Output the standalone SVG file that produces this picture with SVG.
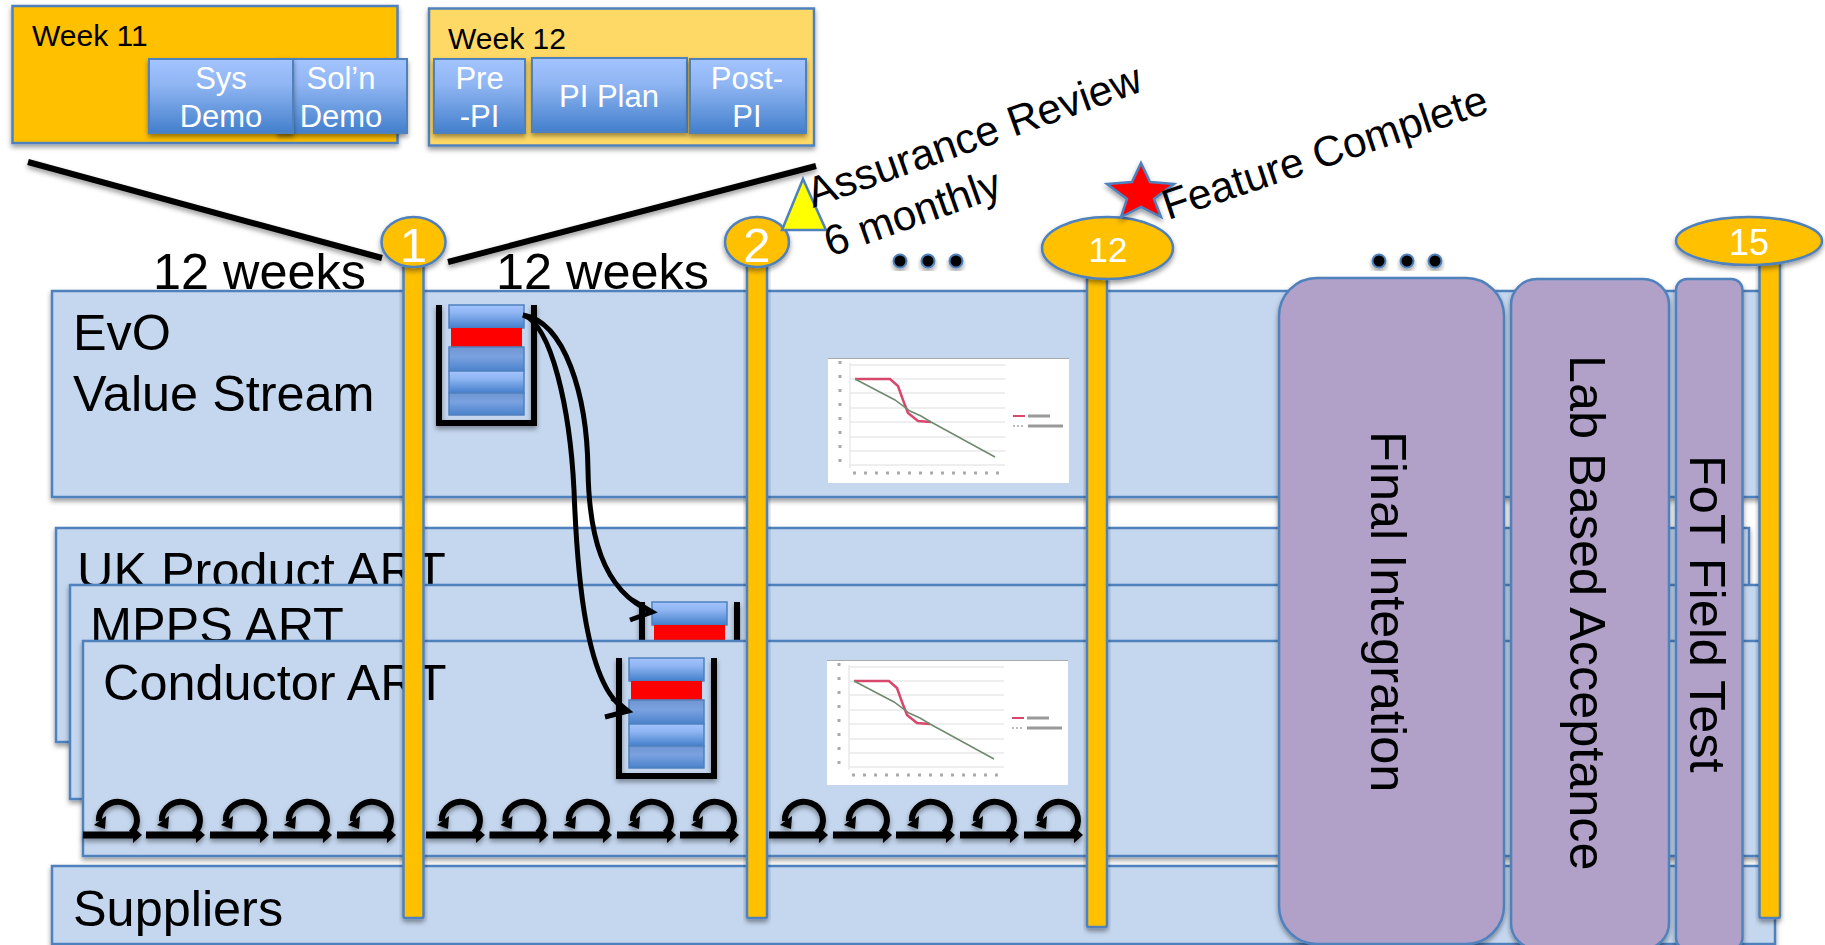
<svg xmlns="http://www.w3.org/2000/svg" xmlns:xlink="http://www.w3.org/1999/xlink" width="1825" height="945" viewBox="0 0 1825 945">
<style>
text{font-family:"Liberation Sans",Arial,sans-serif;fill:#000}
.lane{fill:#c5d7ef;stroke:#4f81bd;stroke-width:2.5;filter:url(#sh)}
.lbl{font-size:50.4px}
.wk{font-size:30px}
.btn{stroke:#4f81bd;stroke-width:2;fill:url(#blue);filter:url(#sh)}
.bt{font-size:31px;fill:#fff;text-anchor:middle}
.pole{fill:#ffc000;stroke:#4f81bd;stroke-width:2.5;filter:url(#sh)}
.num{fill:#fff;text-anchor:middle}
.purple{fill:#b1a0c7;stroke:#4f81bd;stroke-width:2.5;filter:url(#sh)}
.ang{font-size:42.5px}
.heavy{fill:none;stroke:#000;stroke-width:6}
.arrow{fill:none;stroke:#000;stroke-width:5}
.dot{fill:#000;stroke:#4f81bd;stroke-width:2;filter:url(#sh)}
.row{stroke:#4f81bd;stroke-width:1.5}
</style>
<defs>
<filter id="sh" x="-20%" y="-20%" width="140%" height="140%"><feDropShadow dx="0" dy="3" stdDeviation="2.5" flood-color="#000" flood-opacity="0.4"/></filter>
<filter id="soft" x="-5%" y="-5%" width="110%" height="110%"><feGaussianBlur stdDeviation="0.7"/></filter>
<linearGradient id="blue" x1="0" y1="0" x2="0" y2="1"><stop offset="0" stop-color="#a3c4ff"/><stop offset="0.35" stop-color="#8fb5f2"/><stop offset="1" stop-color="#437fcc"/></linearGradient>
<linearGradient id="blue2" x1="0" y1="0" x2="0" y2="1"><stop offset="0" stop-color="#6f95d2"/><stop offset="0.4" stop-color="#7ba2e0"/><stop offset="1" stop-color="#4a82cc"/></linearGradient>
<g id="stack">
<path d="M-10,0V118H85V0" class="heavy" style="filter:url(#sh)"/>
<rect x="0" y="0" width="75" height="23" class="row" fill="url(#blue)"/>
<rect x="2" y="23" width="71" height="19" fill="#ff0000"/>
<rect x="0" y="42" width="75" height="24" class="row" fill="url(#blue2)"/>
<rect x="0" y="66" width="75" height="22" class="row" fill="url(#blue)"/>
<rect x="0" y="88" width="75" height="22" class="row" fill="url(#blue2)"/>
</g>
<g id="chart">
<rect x="0" y="0" width="241" height="125" fill="#fff"/>
<path d="M0,0.5H241" stroke="#aaa" stroke-width="1"/>
<g filter="url(#soft)">
<path d="M22,7H177M22,21H177M22,35H177M22,50H177M22,64H177M22,79H177M22,93H177M22,107H177" stroke="#ddd" stroke-width="1.2" fill="none"/>
<path d="M22,5V110" stroke="#e8e8e8" stroke-width="1.5"/>
<path d="M27,21L62,21L70,28L75,42L80,55L90,63L103,64" stroke="#d8466c" stroke-width="2.500" fill="none"/>
<path d="M27,21L67,42L82,53L93,58L103,64L167,99" stroke="#6f8a6f" stroke-width="1.5" fill="none"/>
<path d="M12,3V110" stroke="#aaa" stroke-width="3" stroke-dasharray="3,11" fill="none"/>
<path d="M25,115H175" stroke="#aaa" stroke-width="3" stroke-dasharray="3,8" fill="none"/>
<path d="M185,58H197" stroke="#d8466c" stroke-width="2"/>
<path d="M200,58H222" stroke="#999" stroke-width="3"/>
<path d="M185,68H197" stroke="#bbb" stroke-width="2" stroke-dasharray="2,2"/>
<path d="M200,68H235" stroke="#999" stroke-width="3"/>
</g>
</g>
<g id="loop" style="filter:url(#sh)">
<path d="M0,0H51" fill="none" stroke="#000" stroke-width="7"/>
<path d="M50,-8L59,0L50,8Z" fill="#000"/>
<path d="M48,-2A19,18 0 1 0 16,-14" fill="none" stroke="#000" stroke-width="6"/>
<path d="M11,-10L22,-6L23,-19Z" fill="#000"/>
</g>
</defs>
<rect width="1825" height="945" fill="#fff"/>

<g id="week-11">
<rect x="12.5" y="6" width="385" height="137" fill="#ffc000" stroke="#4f81bd" stroke-width="2.5" filter="url(#sh)"/>
<text x="32" y="46" class="wk">Week 11</text>
</g>
<g id="week-12">
<rect x="429" y="8.500" width="385" height="137" fill="#ffd966" stroke="#4f81bd" stroke-width="2.500" filter="url(#sh)"/>
<text x="448" y="49" class="wk">Week 12</text>
</g>
<g id="soln-demo"><rect x="278" y="59" width="129" height="74" class="btn"/><text x="341" y="89" class="bt">Sol’n</text><text x="341" y="127" class="bt">Demo</text></g>
<g id="sys-demo"><rect x="149" y="59" width="144" height="74" class="btn"/><text x="221" y="89" class="bt">Sys</text><text x="221" y="127" class="bt">Demo</text></g>
<g id="pre-pi"><rect x="434" y="59" width="91" height="74" class="btn"/><text x="479.500" y="89" class="bt">Pre</text><text x="479.500" y="127" class="bt">-PI</text></g>
<g id="pi-plan"><rect x="532" y="58" width="155" height="74" class="btn"/><text x="609" y="107" class="bt">PI Plan</text></g>
<g id="post-pi"><rect x="690" y="59" width="116" height="74" class="btn"/><text x="747" y="89" class="bt">Post-</text><text x="747" y="127" class="bt">PI</text></g>

<g id="label-12-weeks-a"><text x="153" y="289" class="lbl">12 weeks</text></g>
<g id="label-12-weeks-b"><text x="496" y="289" class="lbl">12 weeks</text></g>

<g id="lane-evo">
<rect x="52" y="291" width="1715" height="206" class="lane"/>
<text x="73" y="350" class="lbl">EvO</text>
<text x="73" y="411" class="lbl">Value Stream</text>
</g>
<g id="stack-evo"><use href="#stack" x="449" y="305"/></g>
<use id="chart-evo" href="#chart" x="828" y="358"/>

<g id="lane-uk">
<rect x="56" y="528" width="1693" height="214" class="lane"/>
<text x="77" y="588" class="lbl">UK Product ART</text>
</g>
<g id="lane-mpps">
<rect x="70" y="585" width="1695" height="214" class="lane"/>
<text x="90" y="643" class="lbl">MPPS ART</text>
</g>
<g id="stack-mpps"><use href="#stack" x="652" y="602"/></g>
<g id="lane-conductor">
<rect x="83" y="641" width="1682" height="215" class="lane"/>
<text x="103" y="700" class="lbl">Conductor ART</text>
</g>
<g id="stack-conductor"><use href="#stack" x="629" y="658"/></g>
<use id="chart-conductor" href="#chart" x="827" y="660"/>

<g id="loops">
<use href="#loop" x="83" y="835"/><use href="#loop" x="146" y="835"/><use href="#loop" x="210" y="835"/><use href="#loop" x="273" y="835"/><use href="#loop" x="337" y="835"/>
<use href="#loop" x="426" y="835"/><use href="#loop" x="489.500" y="835"/><use href="#loop" x="553" y="835"/><use href="#loop" x="617" y="835"/><use href="#loop" x="680" y="835"/>
<use href="#loop" x="769" y="835"/><use href="#loop" x="833" y="835"/><use href="#loop" x="896" y="835"/><use href="#loop" x="960" y="835"/><use href="#loop" x="1024" y="835"/>
</g>

<g id="lane-suppliers">
<rect x="52" y="866" width="1723" height="78" class="lane"/>
<text x="73" y="926" class="lbl">Suppliers</text>
</g>

<g id="connectors">
<path d="M28,162L382,258" fill="none" stroke="#000" stroke-width="6" filter="url(#sh)"/>
<path d="M448,262L816,166" fill="none" stroke="#000" stroke-width="6" filter="url(#sh)"/>
<path class="arrow" d="M523,315C565,322 587,395 588,470C589,530 600,590 652,612M630,620L652,612L632,600"/>
<path class="arrow" d="M523,315C552,325 570,410 574,490C577,570 585,690 628,711M605,717L628,711L612,698"/>
</g>

<g id="final-integration">
<rect x="1279" y="278" width="225" height="666" rx="38" ry="38" class="purple"/>
<text transform="translate(1371 431) rotate(90)" class="lbl">Final Integration</text>
</g>
<g id="lab-acceptance">
<rect x="1511" y="279" width="158" height="670" rx="26" ry="26" class="purple"/>
<text transform="translate(1570 355) rotate(90)" class="lbl">Lab Based Acceptance</text>
</g>
<g id="fot-test">
<rect x="1676" y="279" width="66.500" height="670" rx="11" ry="11" class="purple"/>
<text transform="translate(1690 455) rotate(90)" class="lbl">FoT Field Test</text>
</g>

<g id="milestone-1">
<rect x="403.500" y="250" width="20" height="668" rx="2" class="pole"/>
<ellipse cx="413.500" cy="242" rx="32" ry="25" class="pole"/>
<text x="413.500" y="262" class="num" font-size="49">1</text>
</g>
<g id="milestone-2">
<rect x="747" y="250" width="20" height="668" rx="2" class="pole"/>
<ellipse cx="757" cy="242" rx="32" ry="25" class="pole"/>
<text x="757" y="262" class="num" font-size="49">2</text>
</g>
<g id="milestone-12">
<rect x="1087" y="260" width="20" height="667" rx="2" class="pole"/>
<ellipse cx="1107.500" cy="248" rx="65.500" ry="31" class="pole"/>
<text x="1108" y="262" class="num" font-size="35">12</text>
</g>
<g id="milestone-15">
<rect x="1759.500" y="250" width="20.500" height="668" rx="2" class="pole"/>
<ellipse cx="1749" cy="241" rx="73" ry="24" class="pole"/>
<text x="1749" y="255" class="num" font-size="36">15</text>
</g>

<g id="assurance-review">
<polygon points="803,179 826,230 782,230" fill="#ffff00" stroke="#4f81bd" stroke-width="2.500"/>
<text transform="translate(813 208) rotate(-19.500)" class="ang">Assurance Review</text>
<text transform="translate(813 208) rotate(-19.500)" class="ang" y="52">6 monthly</text>
</g>
<g id="feature-complete">
<polygon points="1141,163 1150,182 1174,184 1154,199 1161,217 1141,207 1121,217 1127,199 1107,184 1132,182" fill="#ff0000" stroke="#4f81bd" stroke-width="2.500" filter="url(#sh)"/>
<text transform="translate(1168 220) rotate(-18.500)" class="ang">Feature Complete</text>
</g>
<g id="dots-a"><circle cx="900" cy="261" r="6.500" class="dot"/><circle cx="928" cy="261" r="6.500" class="dot"/><circle cx="956" cy="261" r="6.500" class="dot"/></g>
<g id="dots-b"><circle cx="1379" cy="261" r="6.500" class="dot"/><circle cx="1407" cy="261" r="6.500" class="dot"/><circle cx="1435" cy="261" r="6.500" class="dot"/></g>
</svg>
